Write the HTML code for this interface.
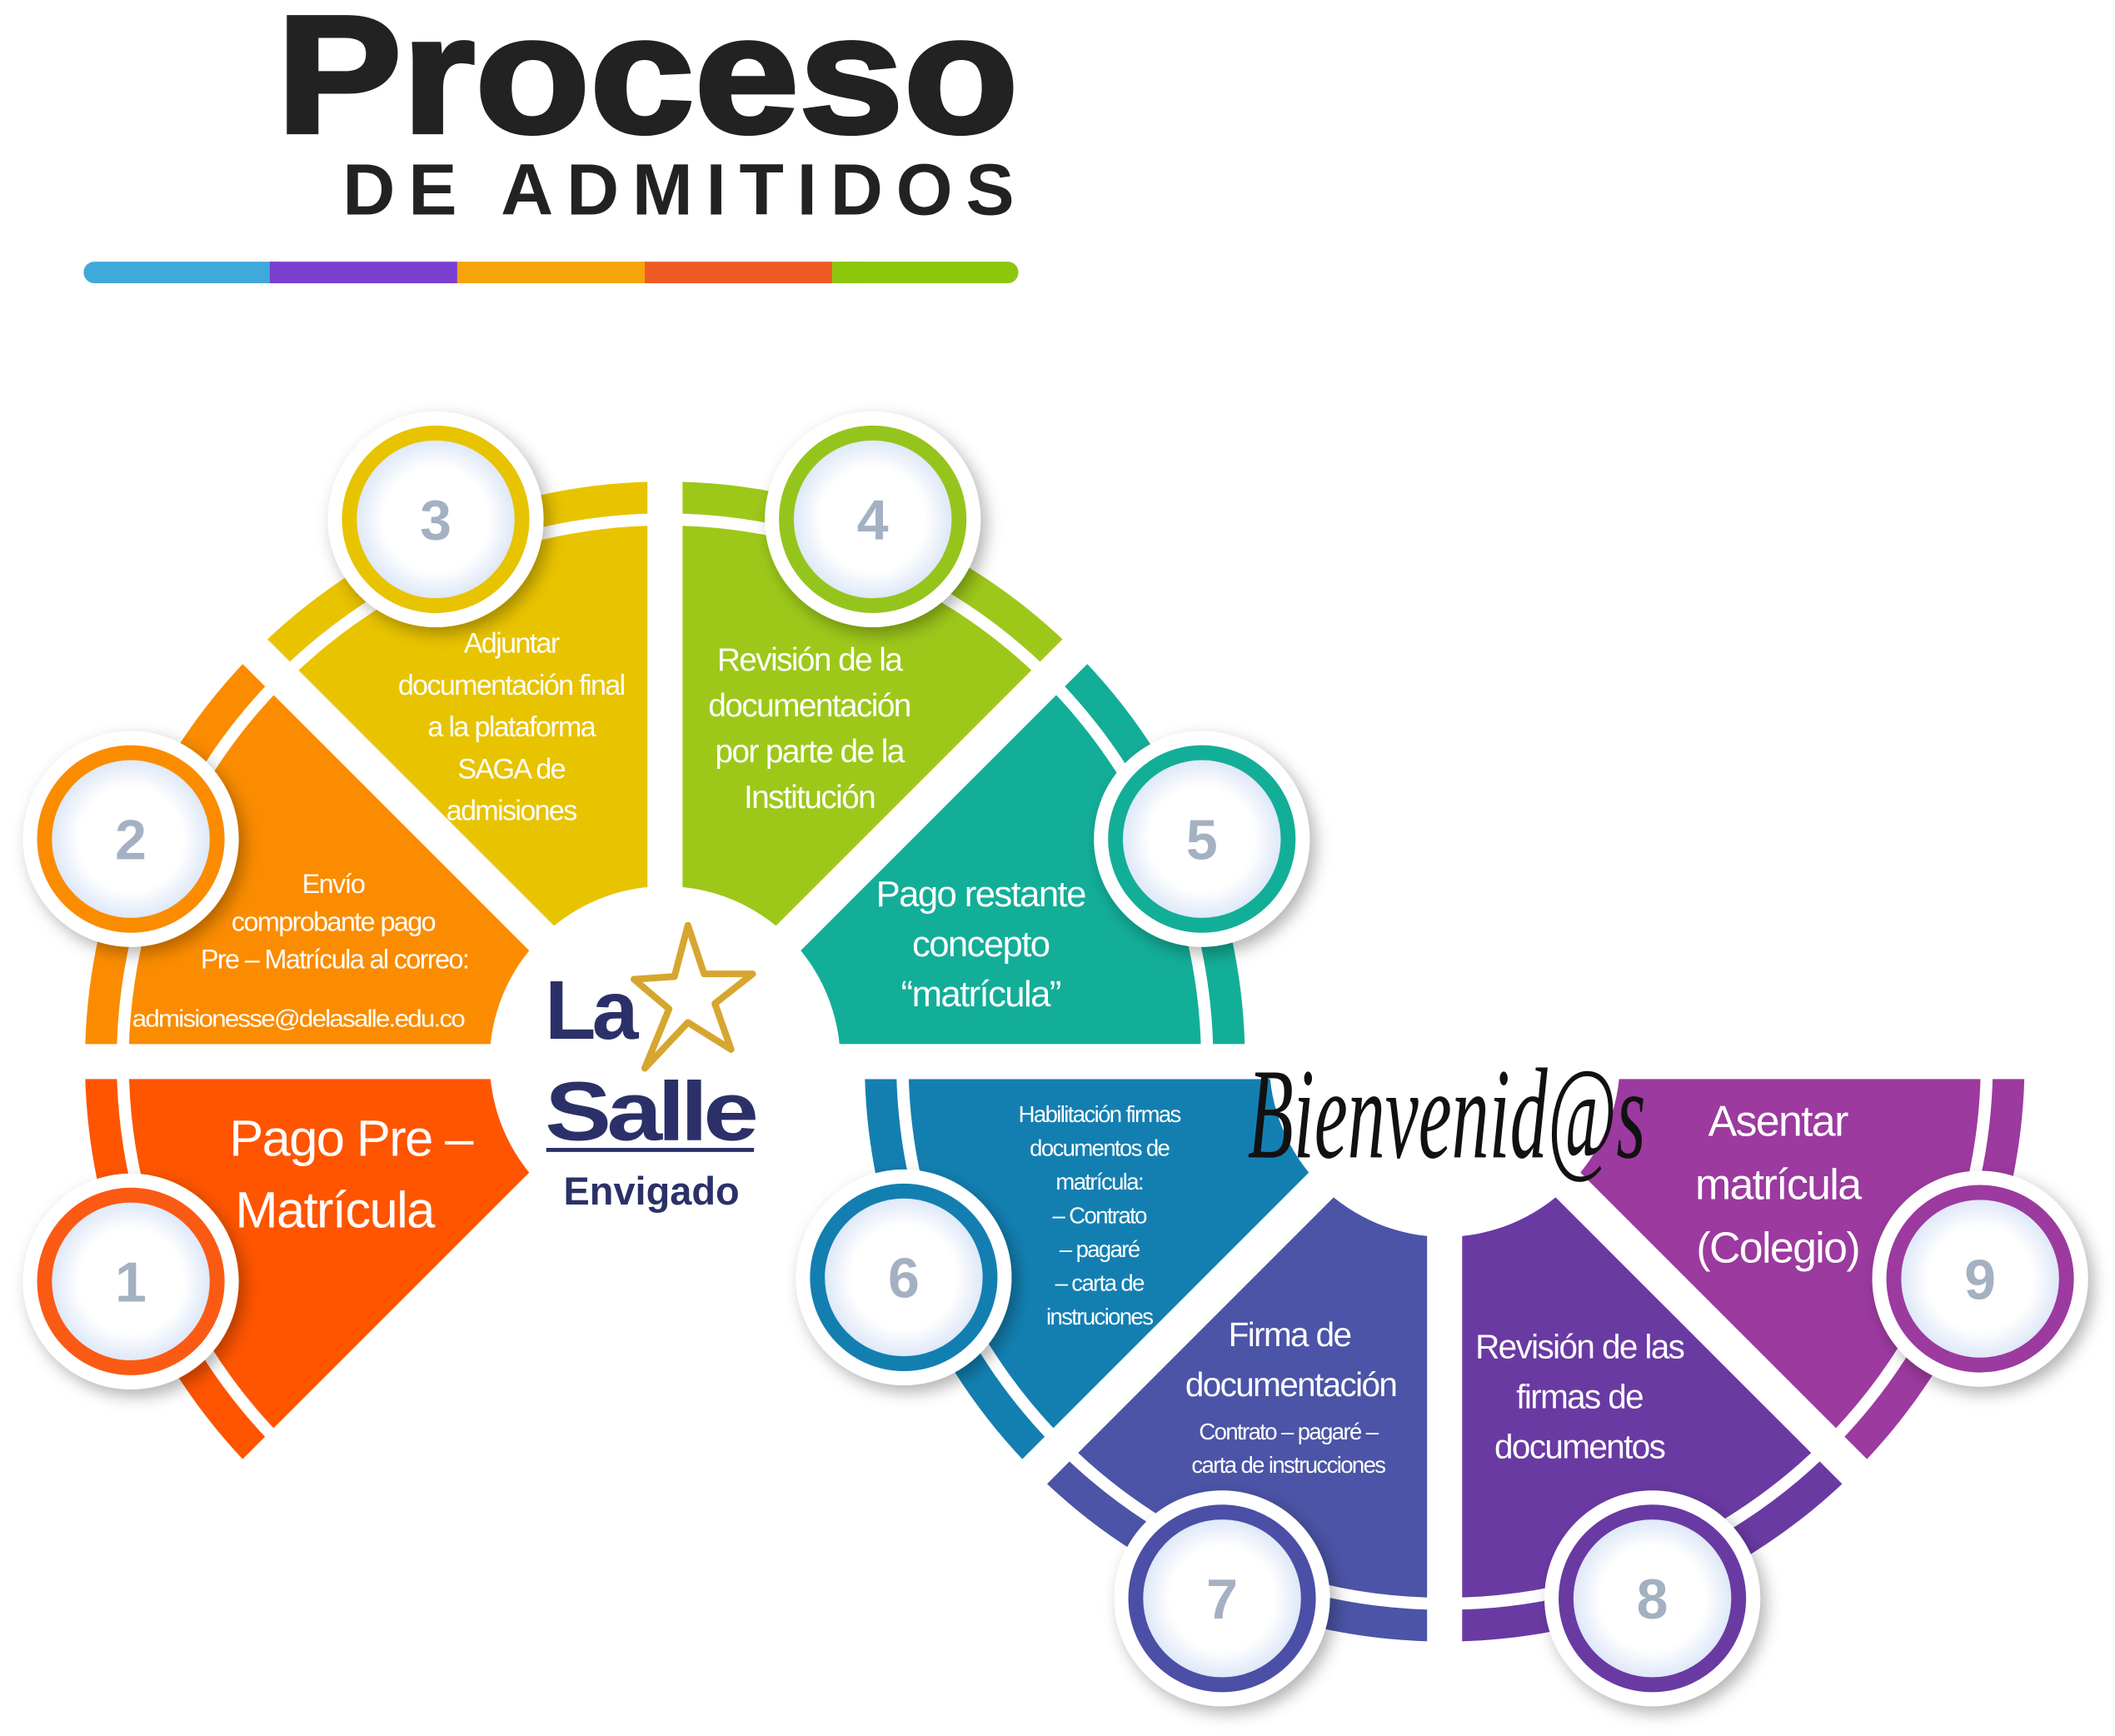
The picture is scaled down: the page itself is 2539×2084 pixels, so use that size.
<!DOCTYPE html>
<html><head><meta charset="utf-8"><style>
html,body{margin:0;padding:0;background:#fff}
svg{display:block}
</style></head><body>
<svg xmlns="http://www.w3.org/2000/svg" width="2539" height="2084" viewBox="0 0 1568 1287">
<defs>
<radialGradient id="ig" cx="50%" cy="50%" r="50%"><stop offset="0.6" stop-color="#ffffff"/><stop offset="1" stop-color="#d6e2f6"/></radialGradient>
<filter id="sh" x="-30%" y="-30%" width="160%" height="160%"><feDropShadow dx="4" dy="5" stdDeviation="6" flood-color="#000" flood-opacity="0.3"/></filter>
</defs>
<path d="M493,787 L188.95,1091.05 A430 430 0 0 1 63,787 Z" fill="#ff5500"/>
<path d="M493,787 L63,787 A430 430 0 0 1 188.95,482.95 Z" fill="#fb8c00"/>
<path d="M493,787 L188.95,482.95 A430 430 0 0 1 493,357 Z" fill="#e8c300"/>
<path d="M493,787 L493,357 A430 430 0 0 1 797.05,482.95 Z" fill="#9dc81a"/>
<path d="M493,787 L797.05,482.95 A430 430 0 0 1 923,787 Z" fill="#13ae98"/>
<path d="M1071,787 L1501,787 A430 430 0 0 1 1375.05,1091.05 Z" fill="#9c3a9f"/>
<path d="M1071,787 L1375.05,1091.05 A430 430 0 0 1 1071,1217 Z" fill="#6a3aa3"/>
<path d="M1071,787 L1071,1217 A430 430 0 0 1 766.95,1091.05 Z" fill="#4b54a6"/>
<path d="M1071,787 L766.95,1091.05 A430 430 0 0 1 641,787 Z" fill="#137fb1"/>
<path d="M208.7,1071.3 A402 402 0 1 1 895,787" fill="none" stroke="#fff" stroke-width="9"/>
<path d="M1473,787 A402 402 0 1 1 669,787" fill="none" stroke="#fff" stroke-width="9"/>
<g stroke="#fff" stroke-width="26">
<line x1="493" y1="787" x2="174.8" y2="1105.2"/>
<line x1="493" y1="787" x2="43" y2="787"/>
<line x1="493" y1="787" x2="174.8" y2="468.8"/>
<line x1="493" y1="787" x2="493" y2="337"/>
<line x1="493" y1="787" x2="811.2" y2="468.8"/>
<line x1="493" y1="787" x2="943" y2="787"/>
<line x1="1071" y1="787" x2="1521" y2="787"/>
<line x1="1071" y1="787" x2="1389.2" y2="1105.2"/>
<line x1="1071" y1="787" x2="1071" y2="1237"/>
<line x1="1071" y1="787" x2="752.8" y2="1105.2"/>
<line x1="1071" y1="787" x2="621" y2="787"/>
</g>
<circle cx="493" cy="787" r="130" fill="#fff"/>
<circle cx="1071" cy="787" r="130" fill="#fff"/>
<text x="205" y="98" font-family="Liberation Sans, sans-serif" font-weight="900" font-size="124" fill="#222" textLength="550" lengthAdjust="spacingAndGlyphs" stroke="#222" stroke-width="3">Proceso</text>
<text x="254" y="159" font-family="Liberation Sans Narrow, Liberation Sans, sans-serif" font-weight="bold" font-size="54" fill="#222" textLength="498" lengthAdjust="spacing">DE ADMITIDOS</text>
<rect x="62" y="194" width="150" height="16" rx="8" fill="#3fa9db"/>
<rect x="200" y="194" width="139" height="16" fill="#7b3fd0"/>
<rect x="339" y="194" width="139" height="16" fill="#f5a40a"/>
<rect x="478" y="194" width="139" height="16" fill="#ef5a24"/>
<rect x="617" y="194" width="138" height="16" rx="8" fill="#8cc70c"/>
<rect x="617" y="194" width="20" height="16" fill="#8cc70c"/>
<polygon points="510,686 522,722 558,722 530,744 542,778 510,758 478,792 496,748 470,726 500,724" fill="none" stroke="#d6a630" stroke-width="5" stroke-linejoin="round"/>
<text x="404" y="770" font-family="Liberation Sans, sans-serif" font-weight="bold" font-size="62" fill="#2b3168" letter-spacing="-3">La</text>
<text x="404" y="845" font-family="Liberation Sans, sans-serif" font-weight="bold" font-size="62" fill="#2b3168" letter-spacing="-3" textLength="155" lengthAdjust="spacingAndGlyphs">Salle</text>
<rect x="405" y="851" width="154" height="3" fill="#2b3168"/>
<text x="483" y="893" text-anchor="middle" font-family="Liberation Sans Narrow, Liberation Sans, sans-serif" font-weight="bold" font-size="29" fill="#2b3168">Envigado</text>
<text x="925" y="858" font-family="Liberation Serif, serif" font-style="italic" font-size="96" fill="#111" textLength="295" lengthAdjust="spacingAndGlyphs">Bienvenid@s</text>
<g font-family="Liberation Sans, sans-serif" font-weight="bold" font-size="42" fill="#a3b1c2" text-anchor="middle">
<circle cx="97" cy="950" r="80" fill="#fff" filter="url(#sh)"/><circle cx="97" cy="950" r="64" fill="url(#ig)" stroke="#fb5a14" stroke-width="11"/><text x="97" y="965">1</text>
<circle cx="97" cy="622" r="80" fill="#fff" filter="url(#sh)"/><circle cx="97" cy="622" r="64" fill="url(#ig)" stroke="#fb8c00" stroke-width="11"/><text x="97" y="637">2</text>
<circle cx="323" cy="385" r="80" fill="#fff" filter="url(#sh)"/><circle cx="323" cy="385" r="64" fill="url(#ig)" stroke="#e8c300" stroke-width="11"/><text x="323" y="400">3</text>
<circle cx="647" cy="385" r="80" fill="#fff" filter="url(#sh)"/><circle cx="647" cy="385" r="64" fill="url(#ig)" stroke="#95c51c" stroke-width="11"/><text x="647" y="400">4</text>
<circle cx="891" cy="622" r="80" fill="#fff" filter="url(#sh)"/><circle cx="891" cy="622" r="64" fill="url(#ig)" stroke="#13ae98" stroke-width="11"/><text x="891" y="637">5</text>
<circle cx="670" cy="947" r="80" fill="#fff" filter="url(#sh)"/><circle cx="670" cy="947" r="64" fill="url(#ig)" stroke="#137fb1" stroke-width="11"/><text x="670" y="962">6</text>
<circle cx="906" cy="1185" r="80" fill="#fff" filter="url(#sh)"/><circle cx="906" cy="1185" r="64" fill="url(#ig)" stroke="#4b4fa6" stroke-width="11"/><text x="906" y="1200">7</text>
<circle cx="1225" cy="1185" r="80" fill="#fff" filter="url(#sh)"/><circle cx="1225" cy="1185" r="64" fill="url(#ig)" stroke="#6a3aa3" stroke-width="11"/><text x="1225" y="1200">8</text>
<circle cx="1468" cy="948" r="80" fill="#fff" filter="url(#sh)"/><circle cx="1468" cy="948" r="64" fill="url(#ig)" stroke="#9c3a9f" stroke-width="11"/><text x="1468" y="963">9</text>
</g>
<g font-family="Liberation Sans, sans-serif" fill="#fff" text-anchor="middle" letter-spacing="-1">
<text x="260" y="857" font-size="38">Pago Pre –</text>
<text x="248" y="910" font-size="38">Matrícula</text>
<text x="247" y="662" font-size="20">Envío</text>
<text x="247" y="690" font-size="20">comprobante pago</text>
<text x="248" y="718" font-size="20">Pre – Matrícula al correo:</text>
<text x="221" y="761" font-size="18" textLength="246" lengthAdjust="spacingAndGlyphs">admisionesse@delasalle.edu.co</text>
<text x="379" y="484" font-size="21">Adjuntar</text>
<text x="379" y="515" font-size="21">documentación final</text>
<text x="379" y="546" font-size="21">a la plataforma</text>
<text x="379" y="577" font-size="21">SAGA de</text>
<text x="379" y="608" font-size="21">admisiones</text>
<text x="600" y="497" font-size="24">Revisión de la</text>
<text x="600" y="531" font-size="24">documentación</text>
<text x="600" y="565" font-size="24">por parte de la</text>
<text x="600" y="599" font-size="24">Institución</text>
<text x="727" y="672" font-size="27">Pago restante</text>
<text x="727" y="709" font-size="27">concepto</text>
<text x="727" y="746" font-size="27">“matrícula”</text>
<text x="815" y="832" font-size="17">Habilitación firmas</text>
<text x="815" y="857" font-size="17">documentos de</text>
<text x="815" y="882" font-size="17">matrícula:</text>
<text x="815" y="907" font-size="17">– Contrato</text>
<text x="815" y="932" font-size="17">– pagaré</text>
<text x="815" y="957" font-size="17">– carta de</text>
<text x="815" y="982" font-size="17">instruciones</text>
<text x="956" y="998" font-size="25">Firma de</text>
<text x="957" y="1035" font-size="25">documentación</text>
<text x="955" y="1067" font-size="17">Contrato – pagaré –</text>
<text x="955" y="1092" font-size="17">carta de instrucciones</text>
<text x="1171" y="1007" font-size="25">Revisión de las</text>
<text x="1171" y="1044" font-size="25">firmas de</text>
<text x="1171" y="1081" font-size="25">documentos</text>
<text x="1318" y="842" font-size="32">Asentar</text>
<text x="1318" y="889" font-size="32">matrícula</text>
<text x="1318" y="936" font-size="32">(Colegio)</text>
</g>
</svg>
</body></html>
